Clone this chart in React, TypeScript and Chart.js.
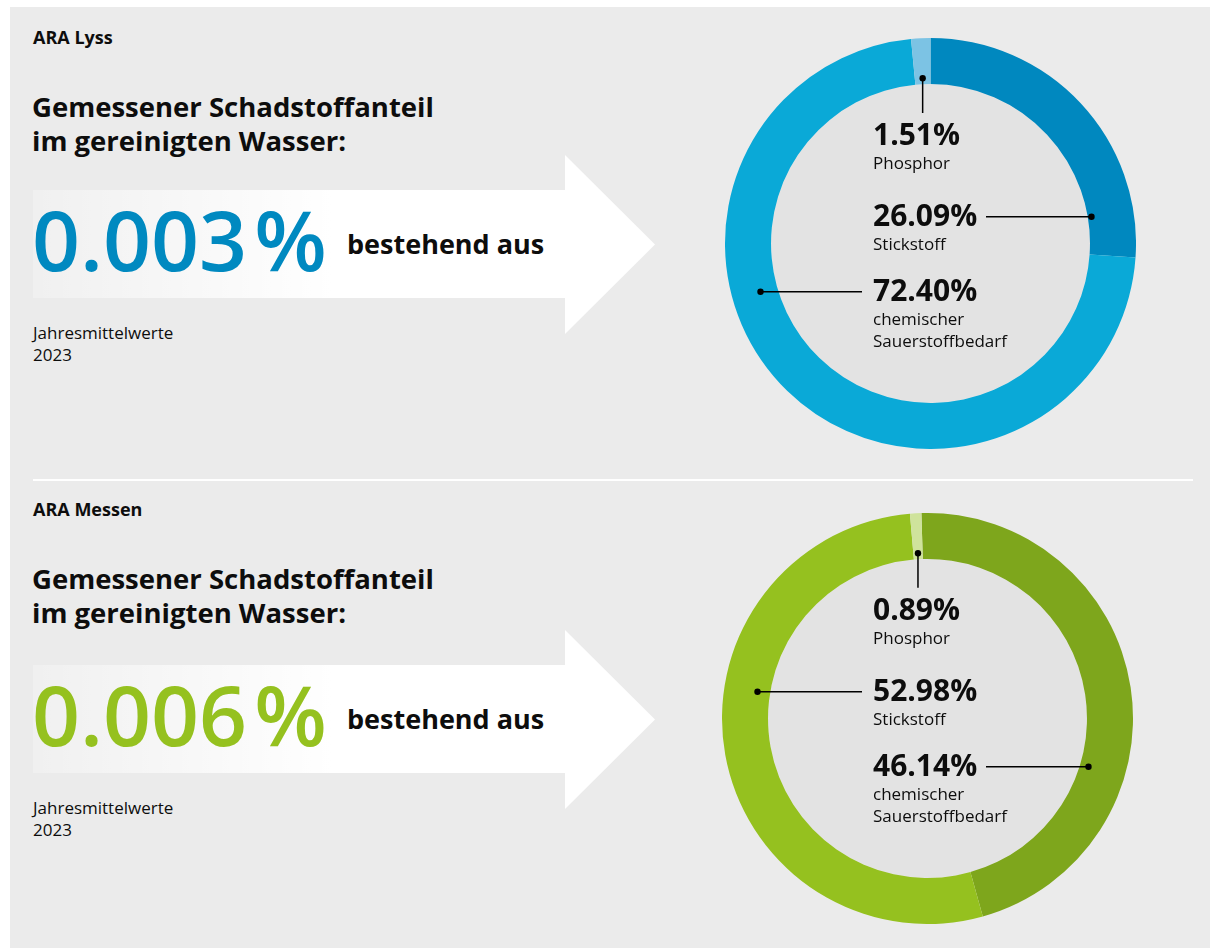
import React, { useEffect, useRef } from "react";
import { Chart, registerables } from "chart.js";

Chart.register(...registerables);

// ---------------- data ----------------
const stationNames = ["ARA Lyss", "ARA Messen"];
const totalShares = ["0.003", "0.006"];
const headlineLines = ["Gemessener Schadstoffanteil", "im gereinigten Wasser:"];
const arrowText = "bestehend aus";
const noteLines = ["Jahresmittelwerte", "2023"];

const lyssCategories = ["Stickstoff", "chemischer Sauerstoffbedarf", "Phosphor"];
const lyssValues = [26.09, 72.4, 1.51];
const lyssColors = ["#0088bf", "#0aa9d7", "#7cc3e4"];

const messenCategories = ["chemischer Sauerstoffbedarf", "Stickstoff", "Phosphor"];
const messenValues = [46.14, 52.98, 0.89];
const messenColors = ["#7ea61c", "#95c11f", "#cfe39c"];

// ---------------- layout ----------------
const FONT = '"Open Sans", "Noto Sans", sans-serif';
const PANEL = "#ebebeb";
const RING_FILL = "#e3e3e3";
const SIZE = 411;

type TxtProps = {
  x: number;
  base: number;
  size: number;
  weight?: number;
  color?: string;
  spacing?: number;
  children: React.ReactNode;
};

function Txt({ x, base, size, weight = 400, color = "#111", spacing = 0, children }: TxtProps) {
  const top = base - 0.888 * size;
  return (
    <div
      style={{
        position: "absolute",
        left: x,
        top,
        fontSize: size,
        lineHeight: size + "px",
        fontWeight: weight,
        color,
        fontFamily: FONT,
        letterSpacing: spacing,
        whiteSpace: "nowrap",
      }}
    >
      {children}
    </div>
  );
}

const leaderPlugin = {
  id: "leaders",
  beforeDatasetsDraw(chart: any, _args: any, opts: any) {
    const arc = chart.getDatasetMeta(0).data[0];
    if (!arc) return;
    const p = arc.getProps(["x", "y", "innerRadius"], true);
    const ctx = chart.ctx;
    ctx.save();
    ctx.fillStyle = opts.fill;
    ctx.beginPath();
    ctx.arc(p.x, p.y, p.innerRadius, 0, Math.PI * 2);
    ctx.fill();
    ctx.restore();
  },
  afterDatasetsDraw(chart: any, _args: any, opts: any) {
    const meta = chart.getDatasetMeta(0);
    const ctx = chart.ctx;
    ctx.save();
    ctx.strokeStyle = "#000";
    ctx.fillStyle = "#000";
    ctx.lineWidth = 1.5;
    for (const it of opts.items || []) {
      const a = meta.data[it.seg];
      if (!a) continue;
      const p = a.getProps(["x", "y", "startAngle", "endAngle", "innerRadius", "outerRadius"], true);
      let px: number, py: number, ex: number, ey: number;
      if (it.type === "up") {
        const ang = (p.startAngle + p.endAngle) / 2;
        const r = p.innerRadius + 6;
        px = p.x + r * Math.cos(ang);
        py = p.y + r * Math.sin(ang);
        ex = px;
        ey = it.endY;
      } else {
        px = p.x + it.dotDx;
        py = it.lineY;
        ex = it.endX;
        ey = py;
      }
      ctx.beginPath();
      ctx.moveTo(px, py);
      ctx.lineTo(ex, ey);
      ctx.stroke();
      ctx.beginPath();
      ctx.arc(px, py, 3.2, 0, Math.PI * 2);
      ctx.fill();
    }
    ctx.restore();
  },
};

type Block = { seg: number; base: number; lead: "up" | "left" | "right" };

type DonutProps = {
  left: number;
  top: number;
  categories: string[];
  values: number[];
  colors: string[];
  rotation: number;
  blocks: Block[];
};

function Donut({ left, top, categories, values, colors, rotation, blocks }: DonutProps) {
  const ref = useRef<HTMLCanvasElement | null>(null);
  const labelX = 873;

  useEffect(() => {
    if (!ref.current) return;
    const items = blocks.map((b) => {
      const lineY = b.base - 10 - top;
      if (b.lead === "up") return { seg: b.seg, type: "up", endY: b.base - 33 - top };
      if (b.lead === "right") return { seg: b.seg, type: "h", lineY, dotDx: 161, endX: 986 - left };
      return { seg: b.seg, type: "h", lineY, dotDx: -170, endX: 862 - left };
    });
    const chart = new Chart(ref.current, {
      type: "doughnut",
      data: {
        labels: categories,
        datasets: [
          {
            data: values,
            backgroundColor: colors,
            borderWidth: 0,
          },
        ],
      },
      options: {
        responsive: false,
        animation: false,
        events: [],
        cutout: "77.6%",
        rotation,
        layout: { padding: 0 },
        plugins: {
          legend: { display: false },
          tooltip: { enabled: false },
          leaders: { fill: RING_FILL, items },
        } as any,
      },
      plugins: [leaderPlugin as any],
    });
    return () => chart.destroy();
  }, []);

  return (
    <>
      <canvas
        ref={ref}
        width={SIZE}
        height={SIZE}
        style={{ position: "absolute", left, top, width: SIZE, height: SIZE }}
      />
      {blocks.map((b, i) => {
        const lines = categories[b.seg].split(" ");
        return (
          <React.Fragment key={i}>
            <Txt x={labelX} base={b.base} size={30} weight={700} color="#0d0d0d">
              {values[b.seg].toFixed(2) + "%"}
            </Txt>
            {lines.map((ln, j) => (
              <Txt key={j} x={labelX} base={b.base + 23 + j * 22} size={17} weight={370} color="#0d0d0d">
                {ln}
              </Txt>
            ))}
          </React.Fragment>
        );
      })}
    </>
  );
}

type SectionProps = {
  idx: number;
  dText: number;
  dMain: number;
  color: string;
};

function LeftBlock({ idx, dText, dMain, color }: SectionProps) {
  return (
    <>
      <Txt x={33} base={44 + dText} size={18} weight={700} color="#0d0d0d">
        {stationNames[idx]}
      </Txt>
      {headlineLines.map((ln, j) => (
        <Txt key={j} x={32} base={117.7 + j * 34 + dText} size={27.5} weight={700} color="#0d0d0d">
          {ln}
        </Txt>
      ))}
      <div
        style={{
          position: "absolute",
          left: 33,
          top: 155 + dMain,
          width: 622,
          height: 179,
          clipPath: "polygon(0px 35px, 532px 35px, 532px 0px, 622px 89.5px, 532px 179px, 532px 143px, 0px 143px)",
          background: "linear-gradient(to right, rgba(255,255,255,0.25) 0%, #ffffff 48%, #ffffff 100%)",
        }}
      />
      <Txt x={32} base={271.7 + dMain} size={84} weight={600} color={color}>
        {totalShares[idx]}
        <span style={{ marginLeft: 7 }}>%</span>
      </Txt>
      <Txt x={347} base={254.3 + dMain} size={27} weight={700} color="#0d0d0d">
        {arrowText}
      </Txt>
      {noteLines.map((ln, j) => (
        <Txt key={j} x={33} base={339 + j * 21.7 + dMain} size={17} weight={370} color="#0d0d0d">
          {ln}
        </Txt>
      ))}
    </>
  );
}

export default function App() {
  return (
    <div
      style={{
        position: "absolute",
        left: 0,
        top: 0,
        width: 1214,
        height: 950,
        background: "#ffffff",
        overflow: "hidden",
      }}
    >
      <div
        style={{
          position: "absolute",
          left: 10,
          top: 7,
          width: 1200,
          height: 941,
          background: PANEL,
        }}
      />
      <div
        style={{
          position: "absolute",
          left: 33,
          top: 478.5,
          width: 1160,
          height: 2,
          background: "#ffffff",
        }}
      />
      <LeftBlock idx={0} dText={0} dMain={0} color="#0089c0" />
      <Donut
        left={725}
        top={38}
        categories={lyssCategories}
        values={lyssValues}
        colors={lyssColors}
        rotation={0}
        blocks={[
          { seg: 2, base: 146, lead: "up" },
          { seg: 0, base: 226.7, lead: "right" },
          { seg: 1, base: 301.7, lead: "left" },
        ]}
      />
      <LeftBlock idx={1} dText={472} dMain={475} color="#95c11f" />
      <Donut
        left={722}
        top={513}
        categories={messenCategories}
        values={messenValues}
        colors={messenColors}
        rotation={-1.7}
        blocks={[
          { seg: 2, base: 620.7, lead: "up" },
          { seg: 1, base: 701.7, lead: "left" },
          { seg: 0, base: 776.7, lead: "right" },
        ]}
      />
    </div>
  );
}
